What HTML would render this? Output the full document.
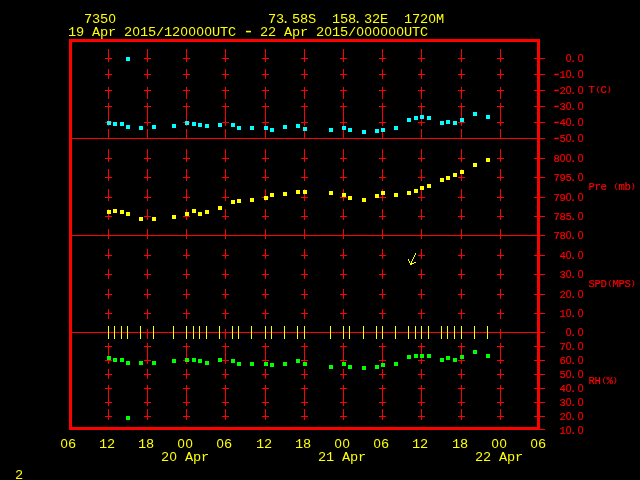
<!DOCTYPE html>
<html><head><meta charset="utf-8"><title>Meteogram 7350</title>
<style>
html,body{margin:0;padding:0;background:#000;overflow:hidden}
svg{display:block}
text{font-family:"Liberation Mono","DejaVu Sans Mono",monospace;white-space:pre}
.b{font-size:13.6px;fill:#ffff00}
.s{font-size:10.6px;fill:#ff0000;stroke:#ff0000;stroke-width:0.2px}
.b .h{font-size:1.35em}
.s .h{font-size:1.5em}
.s .p{font-size:0.75em}
.z{font-family:"Liberation Sans",sans-serif;font-size:0.96em}
</style></head><body>
<svg width="640" height="480" viewBox="0 0 640 480" shape-rendering="crispEdges">
<rect width="640" height="480" fill="#000"/>
<path fill="#ff0000" d="M69 39h471v3h-471zM69 427h471v3h-471zM69 39h3v391h-3zM537 39h3v391h-3zM72 138h473v1h-473zM72 235h473v1h-473zM72 332h473v1h-473zM108 49h1v13h-1zM108 69h1v10h-1zM108 87h1v12h-1zM108 103h1v23h-1zM108 129h1v10h-1zM108 149h1v13h-1zM108 169h1v12h-1zM108 189h1v12h-1zM108 209h1v11h-1zM108 229h1v10h-1zM108 249h1v10h-1zM108 269h1v10h-1zM108 289h1v10h-1zM108 309h1v10h-1zM108 329h1v10h-1zM108 343h1v21h-1zM108 369h1v10h-1zM108 385h1v21h-1zM108 409h1v11h-1zM105 58h7v1h-7zM105 74h7v1h-7zM105 90h7v1h-7zM105 106h7v1h-7zM105 122h7v1h-7zM105 158h7v1h-7zM105 177h7v1h-7zM105 197h7v1h-7zM105 216h7v1h-7zM105 255h7v1h-7zM105 274h7v1h-7zM105 294h7v1h-7zM105 313h7v1h-7zM105 346h7v1h-7zM105 360h7v1h-7zM105 374h7v1h-7zM105 388h7v1h-7zM105 402h7v1h-7zM105 416h7v1h-7zM147 49h1v13h-1zM147 69h1v10h-1zM147 87h1v12h-1zM147 103h1v23h-1zM147 129h1v10h-1zM147 149h1v13h-1zM147 169h1v12h-1zM147 189h1v12h-1zM147 209h1v11h-1zM147 229h1v10h-1zM147 249h1v10h-1zM147 269h1v10h-1zM147 289h1v10h-1zM147 309h1v10h-1zM147 329h1v10h-1zM147 343h1v21h-1zM147 369h1v10h-1zM147 385h1v21h-1zM147 409h1v11h-1zM144 58h7v1h-7zM144 74h7v1h-7zM144 90h7v1h-7zM144 106h7v1h-7zM144 122h7v1h-7zM144 158h7v1h-7zM144 177h7v1h-7zM144 197h7v1h-7zM144 216h7v1h-7zM144 255h7v1h-7zM144 274h7v1h-7zM144 294h7v1h-7zM144 313h7v1h-7zM144 346h7v1h-7zM144 360h7v1h-7zM144 374h7v1h-7zM144 388h7v1h-7zM144 402h7v1h-7zM144 416h7v1h-7zM186 49h1v13h-1zM186 69h1v10h-1zM186 87h1v12h-1zM186 103h1v23h-1zM186 129h1v10h-1zM186 149h1v13h-1zM186 169h1v12h-1zM186 189h1v12h-1zM186 209h1v11h-1zM186 229h1v10h-1zM186 249h1v10h-1zM186 269h1v10h-1zM186 289h1v10h-1zM186 309h1v10h-1zM186 329h1v10h-1zM186 343h1v21h-1zM186 369h1v10h-1zM186 385h1v21h-1zM186 409h1v11h-1zM183 58h7v1h-7zM183 74h7v1h-7zM183 90h7v1h-7zM183 106h7v1h-7zM183 122h7v1h-7zM183 158h7v1h-7zM183 177h7v1h-7zM183 197h7v1h-7zM183 216h7v1h-7zM183 255h7v1h-7zM183 274h7v1h-7zM183 294h7v1h-7zM183 313h7v1h-7zM183 346h7v1h-7zM183 360h7v1h-7zM183 374h7v1h-7zM183 388h7v1h-7zM183 402h7v1h-7zM183 416h7v1h-7zM225 49h1v13h-1zM225 69h1v10h-1zM225 87h1v12h-1zM225 103h1v23h-1zM225 129h1v10h-1zM225 149h1v13h-1zM225 169h1v12h-1zM225 189h1v12h-1zM225 209h1v11h-1zM225 229h1v10h-1zM225 249h1v10h-1zM225 269h1v10h-1zM225 289h1v10h-1zM225 309h1v10h-1zM225 329h1v10h-1zM225 343h1v21h-1zM225 369h1v10h-1zM225 385h1v21h-1zM225 409h1v11h-1zM222 58h7v1h-7zM222 74h7v1h-7zM222 90h7v1h-7zM222 106h7v1h-7zM222 122h7v1h-7zM222 158h7v1h-7zM222 177h7v1h-7zM222 197h7v1h-7zM222 216h7v1h-7zM222 255h7v1h-7zM222 274h7v1h-7zM222 294h7v1h-7zM222 313h7v1h-7zM222 346h7v1h-7zM222 360h7v1h-7zM222 374h7v1h-7zM222 388h7v1h-7zM222 402h7v1h-7zM222 416h7v1h-7zM265 49h1v13h-1zM265 69h1v10h-1zM265 87h1v12h-1zM265 103h1v23h-1zM265 129h1v10h-1zM265 149h1v13h-1zM265 169h1v12h-1zM265 189h1v12h-1zM265 209h1v11h-1zM265 229h1v10h-1zM265 249h1v10h-1zM265 269h1v10h-1zM265 289h1v10h-1zM265 309h1v10h-1zM265 329h1v10h-1zM265 343h1v21h-1zM265 369h1v10h-1zM265 385h1v21h-1zM265 409h1v11h-1zM262 58h7v1h-7zM262 74h7v1h-7zM262 90h7v1h-7zM262 106h7v1h-7zM262 122h7v1h-7zM262 158h7v1h-7zM262 177h7v1h-7zM262 197h7v1h-7zM262 216h7v1h-7zM262 255h7v1h-7zM262 274h7v1h-7zM262 294h7v1h-7zM262 313h7v1h-7zM262 346h7v1h-7zM262 360h7v1h-7zM262 374h7v1h-7zM262 388h7v1h-7zM262 402h7v1h-7zM262 416h7v1h-7zM304 49h1v13h-1zM304 69h1v10h-1zM304 87h1v12h-1zM304 103h1v23h-1zM304 129h1v10h-1zM304 149h1v13h-1zM304 169h1v12h-1zM304 189h1v12h-1zM304 209h1v11h-1zM304 229h1v10h-1zM304 249h1v10h-1zM304 269h1v10h-1zM304 289h1v10h-1zM304 309h1v10h-1zM304 329h1v10h-1zM304 343h1v21h-1zM304 369h1v10h-1zM304 385h1v21h-1zM304 409h1v11h-1zM301 58h7v1h-7zM301 74h7v1h-7zM301 90h7v1h-7zM301 106h7v1h-7zM301 122h7v1h-7zM301 158h7v1h-7zM301 177h7v1h-7zM301 197h7v1h-7zM301 216h7v1h-7zM301 255h7v1h-7zM301 274h7v1h-7zM301 294h7v1h-7zM301 313h7v1h-7zM301 346h7v1h-7zM301 360h7v1h-7zM301 374h7v1h-7zM301 388h7v1h-7zM301 402h7v1h-7zM301 416h7v1h-7zM343 49h1v13h-1zM343 69h1v10h-1zM343 87h1v12h-1zM343 103h1v23h-1zM343 129h1v10h-1zM343 149h1v13h-1zM343 169h1v12h-1zM343 189h1v12h-1zM343 209h1v11h-1zM343 229h1v10h-1zM343 249h1v10h-1zM343 269h1v10h-1zM343 289h1v10h-1zM343 309h1v10h-1zM343 329h1v10h-1zM343 343h1v21h-1zM343 369h1v10h-1zM343 385h1v21h-1zM343 409h1v11h-1zM340 58h7v1h-7zM340 74h7v1h-7zM340 90h7v1h-7zM340 106h7v1h-7zM340 122h7v1h-7zM340 158h7v1h-7zM340 177h7v1h-7zM340 197h7v1h-7zM340 216h7v1h-7zM340 255h7v1h-7zM340 274h7v1h-7zM340 294h7v1h-7zM340 313h7v1h-7zM340 346h7v1h-7zM340 360h7v1h-7zM340 374h7v1h-7zM340 388h7v1h-7zM340 402h7v1h-7zM340 416h7v1h-7zM382 49h1v13h-1zM382 69h1v10h-1zM382 87h1v12h-1zM382 103h1v23h-1zM382 129h1v10h-1zM382 149h1v13h-1zM382 169h1v12h-1zM382 189h1v12h-1zM382 209h1v11h-1zM382 229h1v10h-1zM382 249h1v10h-1zM382 269h1v10h-1zM382 289h1v10h-1zM382 309h1v10h-1zM382 329h1v10h-1zM382 343h1v21h-1zM382 369h1v10h-1zM382 385h1v21h-1zM382 409h1v11h-1zM379 58h7v1h-7zM379 74h7v1h-7zM379 90h7v1h-7zM379 106h7v1h-7zM379 122h7v1h-7zM379 158h7v1h-7zM379 177h7v1h-7zM379 197h7v1h-7zM379 216h7v1h-7zM379 255h7v1h-7zM379 274h7v1h-7zM379 294h7v1h-7zM379 313h7v1h-7zM379 346h7v1h-7zM379 360h7v1h-7zM379 374h7v1h-7zM379 388h7v1h-7zM379 402h7v1h-7zM379 416h7v1h-7zM421 49h1v13h-1zM421 69h1v10h-1zM421 87h1v12h-1zM421 103h1v23h-1zM421 129h1v10h-1zM421 149h1v13h-1zM421 169h1v12h-1zM421 189h1v12h-1zM421 209h1v11h-1zM421 229h1v10h-1zM421 249h1v10h-1zM421 269h1v10h-1zM421 289h1v10h-1zM421 309h1v10h-1zM421 329h1v10h-1zM421 343h1v21h-1zM421 369h1v10h-1zM421 385h1v21h-1zM421 409h1v11h-1zM418 58h7v1h-7zM418 74h7v1h-7zM418 90h7v1h-7zM418 106h7v1h-7zM418 122h7v1h-7zM418 158h7v1h-7zM418 177h7v1h-7zM418 197h7v1h-7zM418 216h7v1h-7zM418 255h7v1h-7zM418 274h7v1h-7zM418 294h7v1h-7zM418 313h7v1h-7zM418 346h7v1h-7zM418 360h7v1h-7zM418 374h7v1h-7zM418 388h7v1h-7zM418 402h7v1h-7zM418 416h7v1h-7zM461 49h1v13h-1zM461 69h1v10h-1zM461 87h1v12h-1zM461 103h1v23h-1zM461 129h1v10h-1zM461 149h1v13h-1zM461 169h1v12h-1zM461 189h1v12h-1zM461 209h1v11h-1zM461 229h1v10h-1zM461 249h1v10h-1zM461 269h1v10h-1zM461 289h1v10h-1zM461 309h1v10h-1zM461 329h1v10h-1zM461 343h1v21h-1zM461 369h1v10h-1zM461 385h1v21h-1zM461 409h1v11h-1zM458 58h7v1h-7zM458 74h7v1h-7zM458 90h7v1h-7zM458 106h7v1h-7zM458 122h7v1h-7zM458 158h7v1h-7zM458 177h7v1h-7zM458 197h7v1h-7zM458 216h7v1h-7zM458 255h7v1h-7zM458 274h7v1h-7zM458 294h7v1h-7zM458 313h7v1h-7zM458 346h7v1h-7zM458 360h7v1h-7zM458 374h7v1h-7zM458 388h7v1h-7zM458 402h7v1h-7zM458 416h7v1h-7zM500 49h1v13h-1zM500 69h1v10h-1zM500 87h1v12h-1zM500 103h1v23h-1zM500 129h1v10h-1zM500 149h1v13h-1zM500 169h1v12h-1zM500 189h1v12h-1zM500 209h1v11h-1zM500 229h1v10h-1zM500 249h1v10h-1zM500 269h1v10h-1zM500 289h1v10h-1zM500 309h1v10h-1zM500 329h1v10h-1zM500 343h1v21h-1zM500 369h1v10h-1zM500 385h1v21h-1zM500 409h1v11h-1zM497 58h7v1h-7zM497 74h7v1h-7zM497 90h7v1h-7zM497 106h7v1h-7zM497 122h7v1h-7zM497 158h7v1h-7zM497 177h7v1h-7zM497 197h7v1h-7zM497 216h7v1h-7zM497 255h7v1h-7zM497 274h7v1h-7zM497 294h7v1h-7zM497 313h7v1h-7zM497 346h7v1h-7zM497 360h7v1h-7zM497 374h7v1h-7zM497 388h7v1h-7zM497 402h7v1h-7zM497 416h7v1h-7zM534 58h11v1h-11zM534 74h11v1h-11zM534 90h11v1h-11zM534 106h11v1h-11zM534 122h11v1h-11zM534 158h11v1h-11zM534 177h11v1h-11zM534 197h11v1h-11zM534 216h11v1h-11zM534 255h11v1h-11zM534 274h11v1h-11zM534 294h11v1h-11zM534 313h11v1h-11zM534 346h11v1h-11zM534 360h11v1h-11zM534 374h11v1h-11zM534 388h11v1h-11zM534 402h11v1h-11zM534 416h11v1h-11zM540 429h5v1h-5z"/>
<path fill="#ffff00" d="M108 326h1v13h-1zM114 326h1v13h-1zM121 326h1v13h-1zM127 326h1v13h-1zM140 326h1v13h-1zM153 326h1v13h-1zM173 326h1v13h-1zM186 326h1v13h-1zM193 326h1v13h-1zM199 326h1v13h-1zM206 326h1v13h-1zM219 326h1v13h-1zM232 326h1v13h-1zM238 326h1v13h-1zM251 326h1v13h-1zM265 326h1v13h-1zM271 326h1v13h-1zM284 326h1v13h-1zM297 326h1v13h-1zM304 326h1v13h-1zM330 326h1v13h-1zM343 326h1v13h-1zM349 326h1v13h-1zM363 326h1v13h-1zM376 326h1v13h-1zM382 326h1v13h-1zM395 326h1v13h-1zM408 326h1v13h-1zM415 326h1v13h-1zM421 326h1v13h-1zM428 326h1v13h-1zM441 326h1v13h-1zM447 326h1v13h-1zM454 326h1v13h-1zM461 326h1v13h-1zM474 326h1v13h-1zM487 326h1v13h-1zM415 253h1v2h-1zM414 255h1v2h-1zM413 257h1v2h-1zM412 259h1v2h-1zM411 261h1v2h-1zM410 263h2v2h-2zM408 259h1v2h-1zM409 261h1v2h-1zM410 263h1v2h-1zM414 262h2v1h-2zM412 263h2v1h-2zM411 264h1v1h-1zM107 210h4v4h-4zM113 209h4v4h-4zM120 210h4v4h-4zM126 212h4v4h-4zM139 217h4v4h-4zM152 217h4v4h-4zM172 215h4v4h-4zM185 212h4v4h-4zM192 209h4v4h-4zM198 212h4v4h-4zM205 210h4v4h-4zM218 206h4v4h-4zM231 200h4v4h-4zM237 199h4v4h-4zM250 198h4v4h-4zM264 196h4v4h-4zM270 193h4v4h-4zM283 192h4v4h-4zM296 190h4v4h-4zM303 190h4v4h-4zM329 191h4v4h-4zM342 193h4v4h-4zM348 196h4v4h-4zM362 198h4v4h-4zM375 194h4v4h-4zM381 191h4v4h-4zM394 193h4v4h-4zM407 191h4v4h-4zM414 189h4v4h-4zM420 186h4v4h-4zM427 184h4v4h-4zM440 178h4v4h-4zM446 176h4v4h-4zM453 173h4v4h-4zM460 170h4v4h-4zM473 163h4v4h-4zM486 158h4v4h-4z"/>
<path fill="#00ffff" d="M107 121h4v4h-4zM113 122h4v4h-4zM120 122h4v4h-4zM126 125h4v4h-4zM139 126h4v4h-4zM152 125h4v4h-4zM172 124h4v4h-4zM185 121h4v4h-4zM192 122h4v4h-4zM198 123h4v4h-4zM205 124h4v4h-4zM218 123h4v4h-4zM231 123h4v4h-4zM237 126h4v4h-4zM250 126h4v4h-4zM264 126h4v4h-4zM270 128h4v4h-4zM283 125h4v4h-4zM296 124h4v4h-4zM303 127h4v4h-4zM329 128h4v4h-4zM342 126h4v4h-4zM348 128h4v4h-4zM362 130h4v4h-4zM375 129h4v4h-4zM381 128h4v4h-4zM394 126h4v4h-4zM407 118h4v4h-4zM414 116h4v4h-4zM420 115h4v4h-4zM427 116h4v4h-4zM440 121h4v4h-4zM446 120h4v4h-4zM453 121h4v4h-4zM460 118h4v4h-4zM473 112h4v4h-4zM486 115h4v4h-4zM126 57h4v4h-4z"/>
<path fill="#00ff00" d="M107 356h4v4h-4zM113 358h4v4h-4zM120 358h4v4h-4zM126 361h4v4h-4zM139 361h4v4h-4zM152 361h4v4h-4zM172 359h4v4h-4zM185 358h4v4h-4zM192 358h4v4h-4zM198 359h4v4h-4zM205 361h4v4h-4zM218 358h4v4h-4zM231 359h4v4h-4zM237 362h4v4h-4zM250 362h4v4h-4zM264 362h4v4h-4zM270 363h4v4h-4zM283 362h4v4h-4zM296 359h4v4h-4zM303 362h4v4h-4zM329 365h4v4h-4zM342 362h4v4h-4zM348 365h4v4h-4zM362 366h4v4h-4zM375 365h4v4h-4zM381 363h4v4h-4zM394 362h4v4h-4zM407 355h4v4h-4zM414 354h4v4h-4zM420 354h4v4h-4zM427 354h4v4h-4zM440 358h4v4h-4zM446 356h4v4h-4zM453 358h4v4h-4zM460 355h4v4h-4zM473 350h4v4h-4zM486 354h4v4h-4zM126 416h4v4h-4z"/>
<text class="b" x="84 92 100 108.5" y="23" xml:space="preserve">735<tspan class="z">0</tspan></text>
<text class="b" x="268 276 281.5 292 300 308" y="23" xml:space="preserve">73.58S</text>
<text class="b" x="332 340 348 353.5 364 372 380" y="23" xml:space="preserve">158.32E</text>
<text class="b" x="404 412 420 428.5 436" y="23" xml:space="preserve">172<tspan class="z">0</tspan>M</text>
<text class="b" x="68 76 84 92 100 108 116 124 132.5 140 148 156 164 172 180.5 188.5 196.5 204.5 212 220 228 236 243 252 260 268 276 284 292 300 308 316 324.5 332 340 348 356.5 364.5 372.5 380.5 388.5 396.5 404 412 420" y="36 36 36 36 36 36 36 36 36 36 36 36 36 36 36 36 36 36 36 36 36 36 37 36 36 36 36 36 36 36 36 36 36 36 36 36 36 36 36 36 36 36 36 36 36" xml:space="preserve">19 Apr 2<tspan class="z">0</tspan>15/12<tspan class="z">0</tspan><tspan class="z">0</tspan><tspan class="z">0</tspan><tspan class="z">0</tspan>UTC <tspan class="h">-</tspan> 22 Apr 2<tspan class="z">0</tspan>15/<tspan class="z">0</tspan><tspan class="z">0</tspan><tspan class="z">0</tspan><tspan class="z">0</tspan><tspan class="z">0</tspan><tspan class="z">0</tspan>UTC</text>
<text class="b" x="60.5 68" y="448" xml:space="preserve"><tspan class="z">0</tspan>6</text>
<text class="b" x="99 107" y="448" xml:space="preserve">12</text>
<text class="b" x="138 146" y="448" xml:space="preserve">18</text>
<text class="b" x="177.5 185.5" y="448" xml:space="preserve"><tspan class="z">0</tspan><tspan class="z">0</tspan></text>
<text class="b" x="216.5 224" y="448" xml:space="preserve"><tspan class="z">0</tspan>6</text>
<text class="b" x="256 264" y="448" xml:space="preserve">12</text>
<text class="b" x="295 303" y="448" xml:space="preserve">18</text>
<text class="b" x="334.5 342.5" y="448" xml:space="preserve"><tspan class="z">0</tspan><tspan class="z">0</tspan></text>
<text class="b" x="373.5 381" y="448" xml:space="preserve"><tspan class="z">0</tspan>6</text>
<text class="b" x="412 420" y="448" xml:space="preserve">12</text>
<text class="b" x="452 460" y="448" xml:space="preserve">18</text>
<text class="b" x="491.5 499.5" y="448" xml:space="preserve"><tspan class="z">0</tspan><tspan class="z">0</tspan></text>
<text class="b" x="530.5 538" y="448" xml:space="preserve"><tspan class="z">0</tspan>6</text>
<text class="b" x="161 169.5 177 185 193 201" y="461" xml:space="preserve">2<tspan class="z">0</tspan> Apr</text>
<text class="b" x="318 326 334 342 350 358" y="461" xml:space="preserve">21 Apr</text>
<text class="b" x="475 483 491 499 507 515" y="461" xml:space="preserve">22 Apr</text>
<text class="b" x="15" y="479" xml:space="preserve">2</text>
<text class="s" x="565.7 570 577.7" y="62" xml:space="preserve"><tspan class="z">0</tspan>.<tspan class="z">0</tspan></text>
<text class="s" x="551.7 559.5 565.7 570 577.7" y="78.7 78 78 78 78" xml:space="preserve"><tspan class="h">-</tspan>1<tspan class="z">0</tspan>.<tspan class="z">0</tspan></text>
<text class="s" x="551.7 559.5 565.7 570 577.7" y="94.7 94 94 94 94" xml:space="preserve"><tspan class="h">-</tspan>2<tspan class="z">0</tspan>.<tspan class="z">0</tspan></text>
<text class="s" x="551.7 559.5 565.7 570 577.7" y="110.7 110 110 110 110" xml:space="preserve"><tspan class="h">-</tspan>3<tspan class="z">0</tspan>.<tspan class="z">0</tspan></text>
<text class="s" x="551.7 559.5 565.7 570 577.7" y="126.7 126 126 126 126" xml:space="preserve"><tspan class="h">-</tspan>4<tspan class="z">0</tspan>.<tspan class="z">0</tspan></text>
<text class="s" x="551.7 559.5 565.7 570 577.7" y="142.7 142 142 142 142" xml:space="preserve"><tspan class="h">-</tspan>5<tspan class="z">0</tspan>.<tspan class="z">0</tspan></text>
<text class="s" x="553.5 559.7 565.7 570 577.7" y="162" xml:space="preserve">8<tspan class="z">0</tspan><tspan class="z">0</tspan>.<tspan class="z">0</tspan></text>
<text class="s" x="553.5 559.5 565.5 570 577.7" y="181" xml:space="preserve">795.<tspan class="z">0</tspan></text>
<text class="s" x="553.5 559.5 565.7 570 577.7" y="201" xml:space="preserve">79<tspan class="z">0</tspan>.<tspan class="z">0</tspan></text>
<text class="s" x="553.5 559.5 565.5 570 577.7" y="220" xml:space="preserve">785.<tspan class="z">0</tspan></text>
<text class="s" x="553.5 559.5 565.7 570 577.7" y="239" xml:space="preserve">78<tspan class="z">0</tspan>.<tspan class="z">0</tspan></text>
<text class="s" x="559.5 565.7 570 577.7" y="259" xml:space="preserve">4<tspan class="z">0</tspan>.<tspan class="z">0</tspan></text>
<text class="s" x="559.5 565.7 570 577.7" y="278" xml:space="preserve">3<tspan class="z">0</tspan>.<tspan class="z">0</tspan></text>
<text class="s" x="559.5 565.7 570 577.7" y="298" xml:space="preserve">2<tspan class="z">0</tspan>.<tspan class="z">0</tspan></text>
<text class="s" x="559.5 565.7 570 577.7" y="317" xml:space="preserve">1<tspan class="z">0</tspan>.<tspan class="z">0</tspan></text>
<text class="s" x="565.7 570 577.7" y="336" xml:space="preserve"><tspan class="z">0</tspan>.<tspan class="z">0</tspan></text>
<text class="s" x="559.5 565.7 570 577.7" y="350" xml:space="preserve">7<tspan class="z">0</tspan>.<tspan class="z">0</tspan></text>
<text class="s" x="559.5 565.7 570 577.7" y="364" xml:space="preserve">6<tspan class="z">0</tspan>.<tspan class="z">0</tspan></text>
<text class="s" x="559.5 565.7 570 577.7" y="378" xml:space="preserve">5<tspan class="z">0</tspan>.<tspan class="z">0</tspan></text>
<text class="s" x="559.5 565.7 570 577.7" y="392" xml:space="preserve">4<tspan class="z">0</tspan>.<tspan class="z">0</tspan></text>
<text class="s" x="559.5 565.7 570 577.7" y="406" xml:space="preserve">3<tspan class="z">0</tspan>.<tspan class="z">0</tspan></text>
<text class="s" x="559.5 565.7 570 577.7" y="420" xml:space="preserve">2<tspan class="z">0</tspan>.<tspan class="z">0</tspan></text>
<text class="s" x="559.5 565.7 570 577.7" y="434" xml:space="preserve">1<tspan class="z">0</tspan>.<tspan class="z">0</tspan></text>
<text class="s" x="588.5 595.7 600.5 606.7" y="93 90.8 93 90.8" xml:space="preserve">T<tspan class="p">(</tspan>C<tspan class="p">)</tspan></text>
<text class="s" x="588.5 594.5 600.5 606.5 613.7 618.5 624.5 630.7" y="190 190 190 190 187.8 190 190 187.8" xml:space="preserve">Pre <tspan class="p">(</tspan>mb<tspan class="p">)</tspan></text>
<text class="s" x="588.5 594.5 600.5 607.7 612.5 618.5 624.5 630.7" y="287 287 287 284.8 287 287 287 284.8" xml:space="preserve">SPD<tspan class="p">(</tspan>MPS<tspan class="p">)</tspan></text>
<text class="s" x="588.5 594.5 601.7 606.5 612.7" y="384 384 381.8 384 381.8" xml:space="preserve">RH<tspan class="p">(</tspan>%<tspan class="p">)</tspan></text>
</svg>
</body></html>
